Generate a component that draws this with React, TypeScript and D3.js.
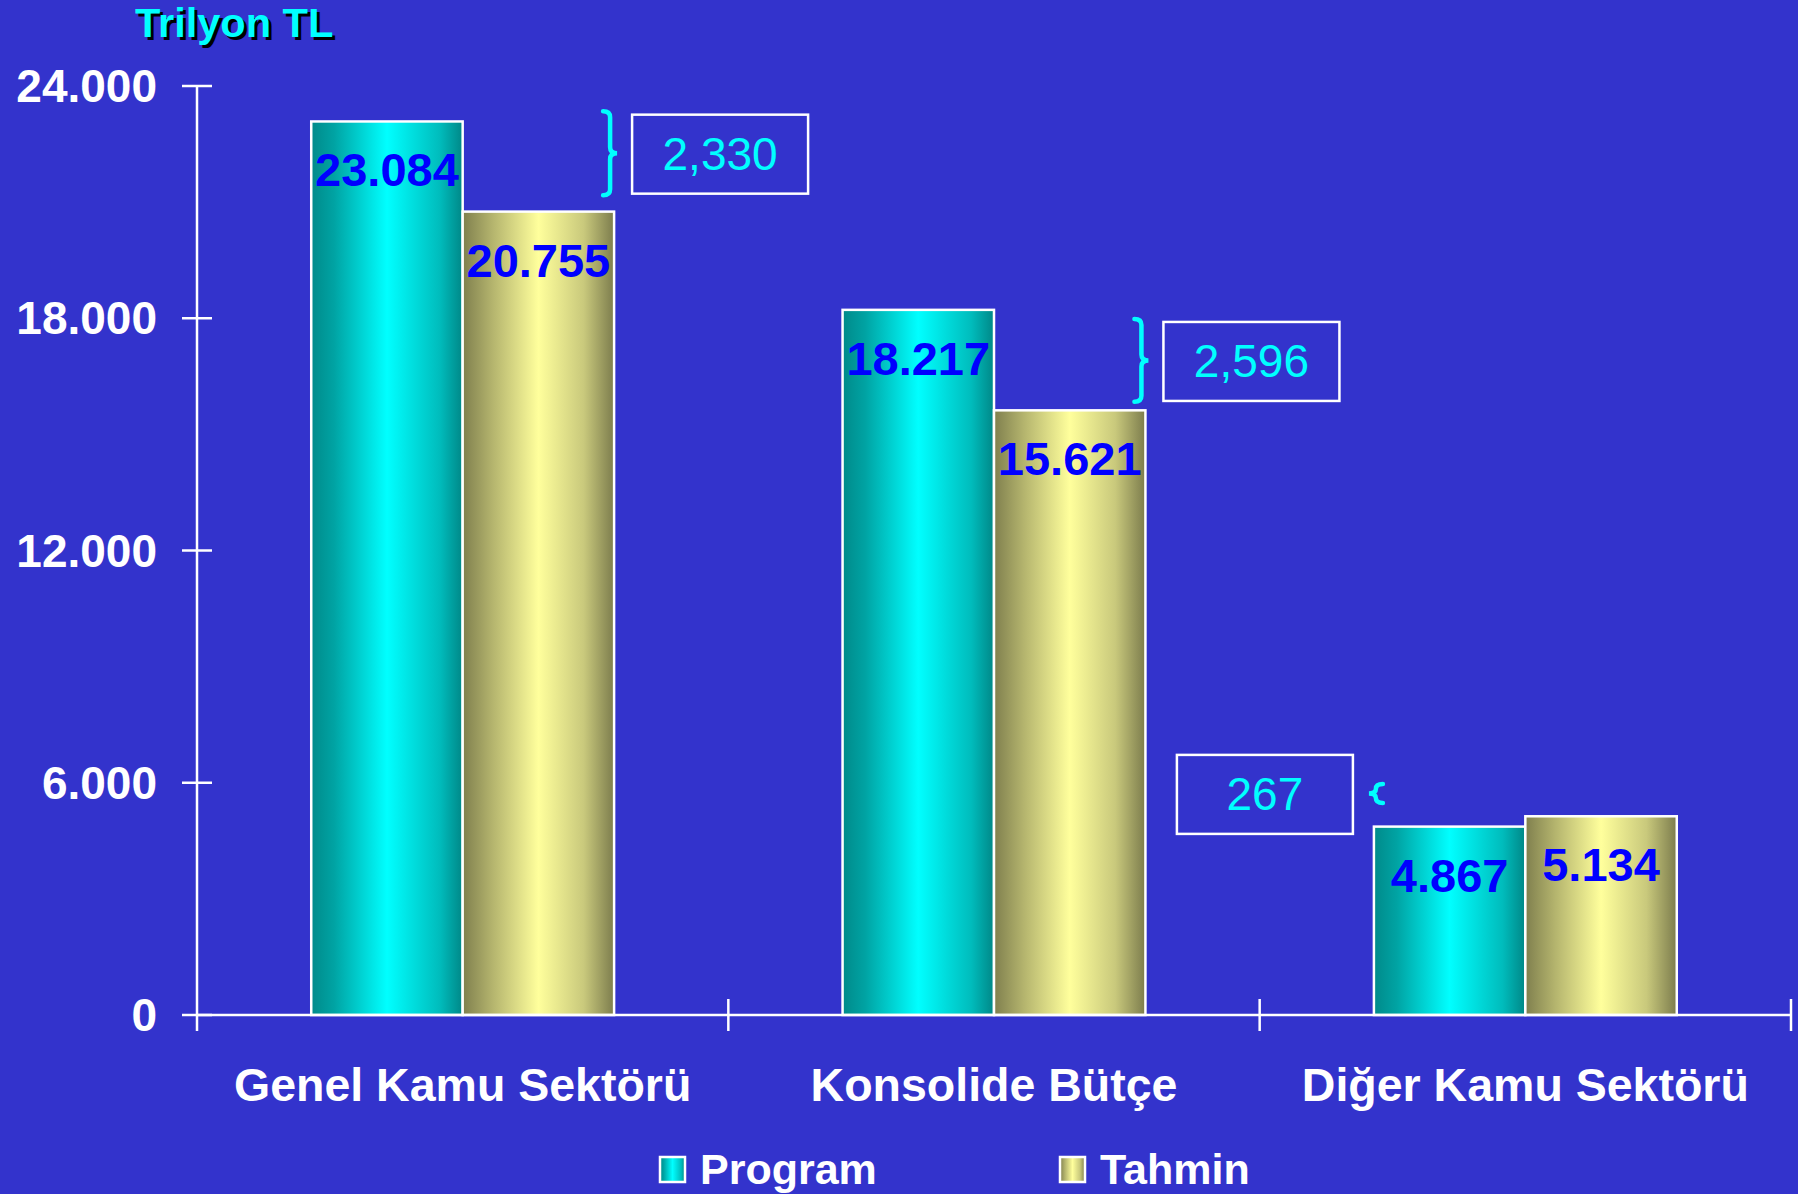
import * as d3 from "d3";

const categories = ["Genel Kamu Sektörü", "Konsolide Bütçe", "Diğer Kamu Sektörü"];
const seriesNames = ["Program", "Tahmin"];
const programValues = [23084, 18217, 4867];
const tahminValues = [20755, 15621, 5134];
const yTicks = [0, 6000, 12000, 18000, 24000];
const diffLabels = ["2,330", "2,596", "267"];
// brace spans, in data units
const braceTop = [23350, 17980, 5970];
const braceBottom = [21180, 15840, 5480];

const W = 1798;
const H = 1194;
const BG = "#3333cc";
const FONT = "'Liberation Sans', Arial, sans-serif";

const trFormat = d3.formatLocale({
  decimal: ",",
  thousands: ".",
  grouping: [3],
  currency: ["", ""],
}).format(",");

function brace(x: number, top: number, bottom: number, w: number) {
  const mid = (top + bottom) / 2;
  const xm = x + w / 2;
  const r = Math.min(6, (bottom - top) / 4);
  return `M${x},${top} Q${xm},${top} ${xm},${top + r} L${xm},${mid - r} Q${xm},${mid} ${x + w},${mid} Q${xm},${mid} ${xm},${mid + r} L${xm},${bottom - r} Q${xm},${bottom} ${x},${bottom}`;
}

export default function App() {
  const x0 = d3
    .scaleBand<string>()
    .domain(categories)
    .range([197, 1791])
    .paddingInner(0.43)
    .paddingOuter(0.215);
  const x1 = d3.scaleBand<string>().domain(seriesNames).range([0, x0.bandwidth()]);
  const y = d3.scaleLinear().domain([0, 24000]).range([1015, 86]);

  const axisX = 197;
  const baseY = y(0);
  const step = x0.step();
  const boundaries = d3.range(categories.length + 1).map((i) => axisX + i * step);

  const rows = categories.map((c, i) => ({
    cat: c,
    vals: [programValues[i], tahminValues[i]],
  }));

  return (
    <svg
      width={W}
      height={H}
      viewBox={`0 0 ${W} ${H}`}
      style={{ position: "absolute", left: 0, top: 0, display: "block" }}
      fontFamily={FONT}
    >
      <defs>
        <linearGradient id="gProgram" x1="0" x2="1" y1="0" y2="0">
          <stop offset="0" stopColor="#008a8a" />
          <stop offset="0.15" stopColor="#00a3a3" />
          <stop offset="0.5" stopColor="#00ffff" />
          <stop offset="0.85" stopColor="#00bcbc" />
          <stop offset="1" stopColor="#008787" />
        </linearGradient>
        <linearGradient id="gTahmin" x1="0" x2="1" y1="0" y2="0">
          <stop offset="0" stopColor="#7f7f4e" />
          <stop offset="0.2" stopColor="#b5b56e" />
          <stop offset="0.5" stopColor="#ffff9c" />
          <stop offset="0.8" stopColor="#c9c97c" />
          <stop offset="1" stopColor="#7c7c4d" />
        </linearGradient>
      </defs>
      <rect width={W} height={H} fill={BG} />

      {/* Title */}
      <text x={138} y={40} fontSize={41.5} fontWeight="bold" fill="#000">
        Trilyon TL
      </text>
      <text x={135} y={37} fontSize={41.5} fontWeight="bold" fill="#00ffff">
        Trilyon TL
      </text>

      {/* Bars */}
      {rows.map((r) => (
        <g key={r.cat} transform={`translate(${x0(r.cat)},0)`}>
          {r.vals.map((v, j) => {
            const bx = x1(seriesNames[j])!;
            const bw = x1.bandwidth();
            return (
              <g key={j}>
                <rect
                  x={bx}
                  y={y(v)}
                  width={bw}
                  height={baseY - y(v)}
                  fill={j === 0 ? "url(#gProgram)" : "url(#gTahmin)"}
                  stroke="#ffffff"
                  strokeWidth={2.5}
                />
                <text
                  x={bx + bw / 2}
                  y={y(v) + 65}
                  textAnchor="middle"
                  fontSize={47}
                  fontWeight="bold"
                  fill="#0000ff"
                >
                  {trFormat(v)}
                </text>
              </g>
            );
          })}
        </g>
      ))}

      {/* Axes */}
      <g stroke="#ffffff" strokeWidth={2.5}>
        <line x1={axisX} x2={axisX} y1={y(24000)} y2={baseY + 16} />
        <line x1={axisX} x2={boundaries[boundaries.length - 1]} y1={baseY} y2={baseY} />
        {yTicks.map((t) => (
          <line key={t} x1={axisX - 15} x2={axisX + 15} y1={y(t)} y2={y(t)} />
        ))}
        {boundaries.slice(1).map((bx) => (
          <line key={bx} x1={bx} x2={bx} y1={baseY - 16} y2={baseY + 16} />
        ))}
      </g>
      {yTicks.map((t) => (
        <text
          key={t}
          x={axisX - 40}
          y={y(t) + 16}
          textAnchor="end"
          fontSize={46}
          fontWeight="bold"
          fill="#ffffff"
        >
          {trFormat(t)}
        </text>
      ))}
      {categories.map((c) => (
        <text
          key={c}
          x={x0(c)! + x0.bandwidth() / 2}
          y={1101}
          textAnchor="middle"
          fontSize={46.5}
          fontWeight="bold"
          fill="#ffffff"
        >
          {c}
        </text>
      ))}

      {/* Difference annotations */}
      {categories.map((c, i) => {
        const gl = x0(c)!;
        const gr = gl + x0.bandwidth();
        const top = y(braceTop[i]);
        const bot = y(braceBottom[i]);
        const mid = (top + bot) / 2 + 1;
        const leftSide = tahminValues[i] > programValues[i];
        const bw = 176;
        const bh = 79;
        let path: string;
        let boxX: number;
        if (leftSide) {
          path = brace(gl + 9, top, bot, -14);
          boxX = gl - 7 - bw - 14;
        } else {
          path = brace(gr - 11, top, bot, 14);
          boxX = gr + 18;
        }
        return (
          <g key={c}>
            <path d={path} fill="none" stroke="#00ffff" strokeWidth={4.5} strokeLinecap="round" />
            <rect
              x={boxX}
              y={mid - bh / 2}
              width={bw}
              height={bh}
              fill="none"
              stroke="#ffffff"
              strokeWidth={2.5}
            />
            <text
              x={boxX + bw / 2}
              y={mid + 16}
              textAnchor="middle"
              fontSize={46}
              fill="#00ffff"
            >
              {diffLabels[i]}
            </text>
          </g>
        );
      })}

      {/* Legend */}
      {seriesNames.map((s, i) => {
        const lx = [660, 1060][i];
        return (
          <g key={s}>
            <rect
              x={lx}
              y={1157}
              width={25}
              height={25}
              fill={i === 0 ? "url(#gProgram)" : "url(#gTahmin)"}
              stroke="#ffffff"
              strokeWidth={2.5}
            />
            <text x={lx + 40} y={1184} fontSize={43} fontWeight="bold" fill="#ffffff">
              {s}
            </text>
          </g>
        );
      })}
    </svg>
  );
}
